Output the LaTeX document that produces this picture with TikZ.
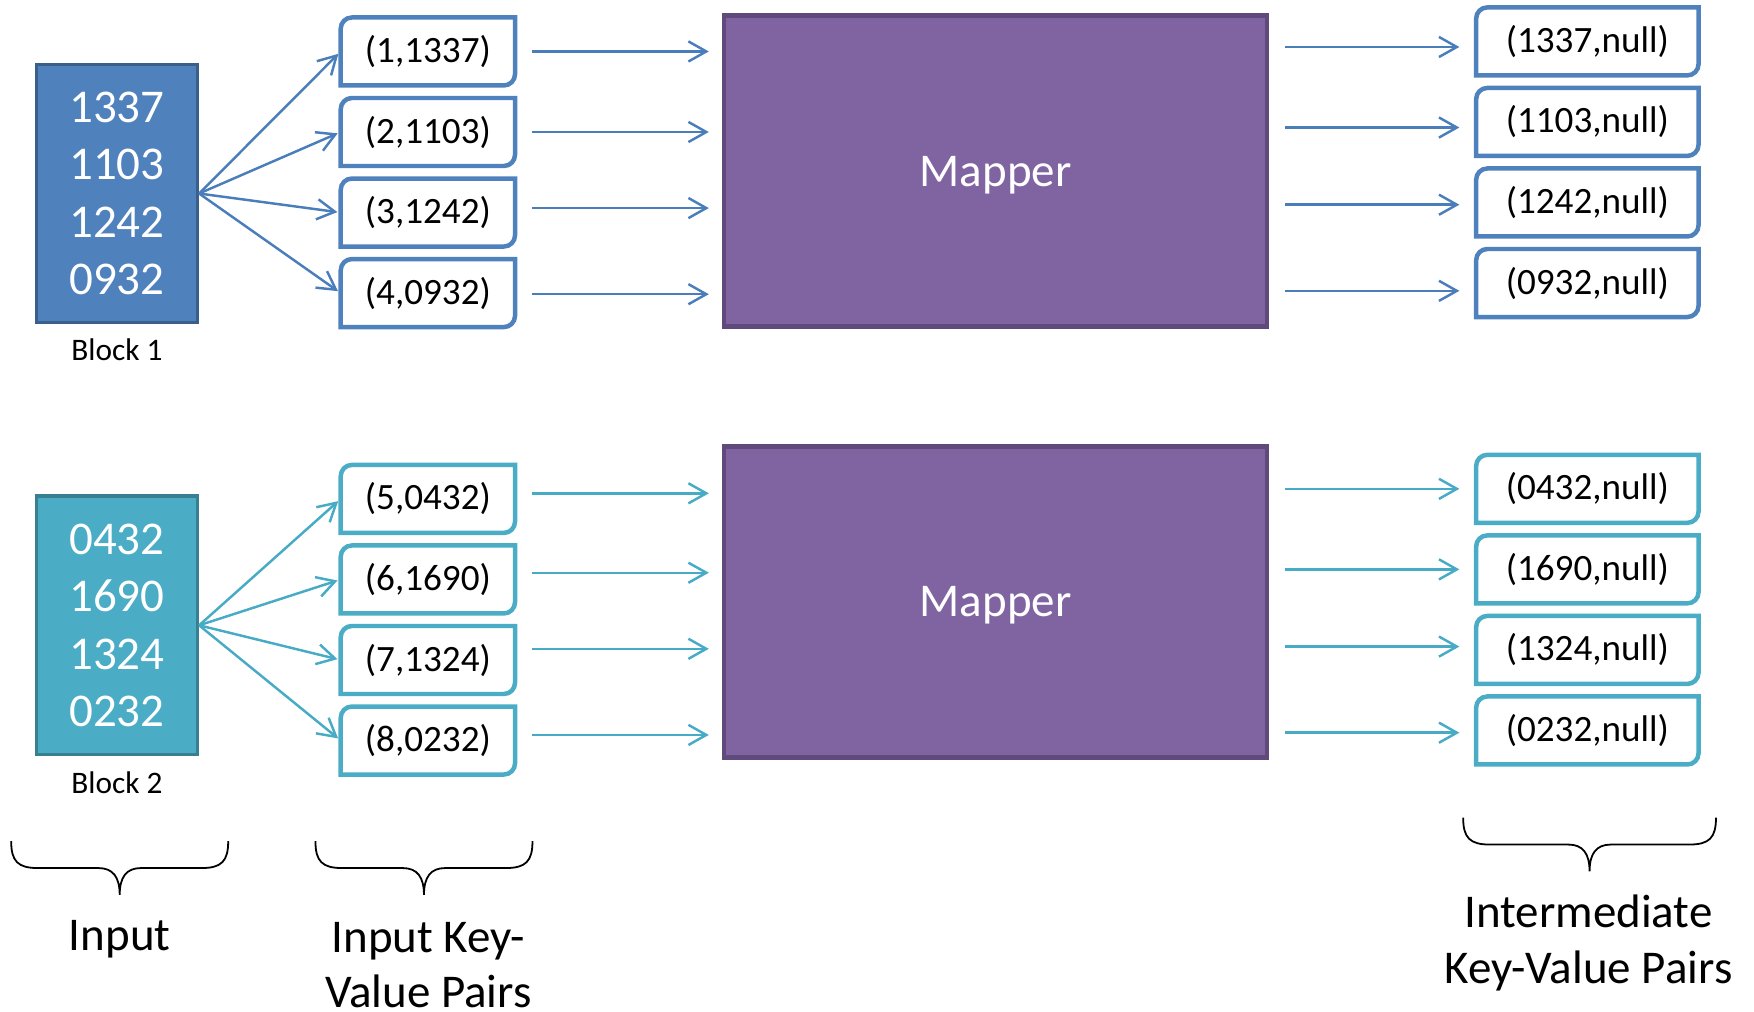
\documentclass[tikz,border=0pt]{standalone}
\usepackage{fontspec}
\setmainfont{Carlito}
\usetikzlibrary{arrows.meta,calc}
\definecolor{blkA}{HTML}{4F81BD}
\definecolor{blkAd}{HTML}{3A5F8B}
\definecolor{blkB}{HTML}{4BACC6}
\definecolor{blkBd}{HTML}{387F92}
\definecolor{mapF}{HTML}{8064A2}
\definecolor{mapD}{HTML}{5F4A7B}
\definecolor{arA}{HTML}{4A7EBB}
\definecolor{arB}{HTML}{47ABC6}
\newcommand\diagoutline[2]{%
  \draw[line width=2pt,draw=#2] (#1.south west) -- ([yshift=-5pt]#1.north west)
    arc[start angle=180,end angle=90,radius=5pt] -- (#1.north east)
    -- ([yshift=5pt]#1.south east) arc[start angle=0,end angle=-90,radius=5pt] -- cycle;}
\begin{document}
\begin{tikzpicture}[x=0.5pt,y=-0.5pt,
  block/.style={draw, line width=1.5pt, minimum width=72pt, minimum height=115.5pt,
    inner sep=0pt, text=white, font=\fontsize{21}{25.6}\selectfont, align=center},
  mapper/.style={draw=mapD, fill=mapF, line width=2pt, minimum width=242.75pt,
    minimum height=139pt, inner sep=0pt, text=white, text depth=0pt,
    font=\fontsize{21}{25}\selectfont},
  kv/.style={minimum width=77.5pt, minimum height=30pt, inner sep=0pt,
    font=\fontsize{16.6}{19}\selectfont},
  outb/.style={kv, minimum width=99pt},
  lbl/.style={font=\fontsize{14}{17}\selectfont},
  captxt/.style={font=\fontsize{21}{24.5}\selectfont, align=center},
  arr/.style={line width=1.1pt, -{Straight Barb[length=8pt,width=9pt]}},
  brc/.style={line width=0.8pt, draw=black}]
\useasboundingbox (0,0) rectangle (1568,904);

% input blocks
\node[block, draw=blkAd, fill=blkA] (b1) at (104.5,173) {1337\\1103\\1242\\0932};
\node[block, draw=blkBd, fill=blkB] (b2) at (104.5,559) {0432\\1690\\1324\\0232};
\node[lbl] (l1) at (104.5,313) {Block 1};
\node[lbl] (l2) at (104.5,700) {Block 2};

% input key-value pairs
\node[kv] (kv1) at (382.5,46)  {(1,1337)};
\node[kv] (kv2) at (382.5,118) {(2,1103)};
\node[kv] (kv3) at (382.5,190) {(3,1242)};
\node[kv] (kv4) at (382.5,262) {(4,0932)};
\node[kv] (kv5) at (382.5,446) {(5,0432)};
\node[kv] (kv6) at (382.5,518) {(6,1690)};
\node[kv] (kv7) at (382.5,590) {(7,1324)};
\node[kv] (kv8) at (382.5,662) {(8,0232)};

% mappers
\node[mapper] (map1) at (890,153) {Mapper};
\node[mapper] (map2) at (890,538) {Mapper};

% intermediate pairs
\node[outb] (o1) at (1419,37)  {(1337,null)};
\node[outb] (o2) at (1419,109) {(1103,null)};
\node[outb] (o3) at (1419,181) {(1242,null)};
\node[outb] (o4) at (1419,253) {(0932,null)};
\node[outb] (o5) at (1419,437) {(0432,null)};
\node[outb] (o6) at (1419,509) {(1690,null)};
\node[outb] (o7) at (1419,581) {(1324,null)};
\node[outb] (o8) at (1419,653) {(0232,null)};

% box outlines
\foreach \n/\c in {kv1/blkA,kv2/blkA,kv3/blkA,kv4/blkA,o1/blkA,o2/blkA,o3/blkA,o4/blkA,
                   kv5/blkB,kv6/blkB,kv7/blkB,kv8/blkB,o5/blkB,o6/blkB,o7/blkB,o8/blkB}
  {\diagoutline{\n}{\c}}

% block -> pairs
\foreach \i/\b/\c in {1/b1/arA,2/b1/arA,3/b1/arA,4/b1/arA,5/b2/arB,6/b2/arB,7/b2/arB,8/b2/arB}
  {\draw[arr, draw=\c, shorten >=1.5pt] (\b.east) -- (kv\i.west);}

% pairs -> mapper
\foreach \i/\d/\c/\m in {1/0/arA/map1,2/0/arA/map1,3/-4/arA/map1,4/1/arA/map1,
                         5/-5/arB/map2,6/-6/arB/map2,7/-10/arB/map2,8/-5/arB/map2}
  {\coordinate (ma\i) at ($(kv\i.east)+(0,\d)$);
   \draw[arr, draw=\c, shorten <=7.8pt, shorten >=5.8pt] (ma\i) -- (ma\i -| \m.west);}

% mapper -> intermediate pairs
\foreach \i/\d/\c/\m in {1/5/arA/map1,2/5/arA/map1,3/2/arA/map1,4/7/arA/map1,
                         5/0/arB/map2,6/0/arB/map2,7/-3/arB/map2,8/2/arB/map2}
  {\coordinate (mo\i) at ($(o\i.west)+(0,\d)$);
   \draw[arr, draw=\c, shorten <=7pt, shorten >=7.5pt] (mo\i -| \m.east) -- (mo\i);}

% braces
\draw[brc] (10,752) .. controls (10,770) and (16,776) .. (34,776) -- (88,776)
  .. controls (101,776) and (107,784) .. (107,800)
  .. controls (107,784) and (113,776) .. (126,776) -- (180,776)
  .. controls (198,776) and (204,770) .. (204,752);
\draw[brc] (282,752) .. controls (282,770) and (288,776) .. (306,776) -- (360,776)
  .. controls (373,776) and (379,784) .. (379,800)
  .. controls (379,784) and (385,776) .. (398,776) -- (452,776)
  .. controls (470,776) and (476,770) .. (476,752);
\draw[brc] (1308,731) .. controls (1308,749) and (1314,755) .. (1332,755) -- (1402,755)
  .. controls (1415,755) and (1421,763) .. (1421,779)
  .. controls (1421,763) and (1427,755) .. (1440,755) -- (1510,755)
  .. controls (1528,755) and (1534,749) .. (1534,731);

% captions
\node[captxt] (c1) at (107,840) {Input};
\node[captxt] (c2) at (383,863) {Input Key-\\Value Pairs};
\node[captxt, font=\fontsize{21}{25}\selectfont] (c3) at (1420,843) {Intermediate\\Key-Value Pairs};
\end{tikzpicture}
\end{document}
